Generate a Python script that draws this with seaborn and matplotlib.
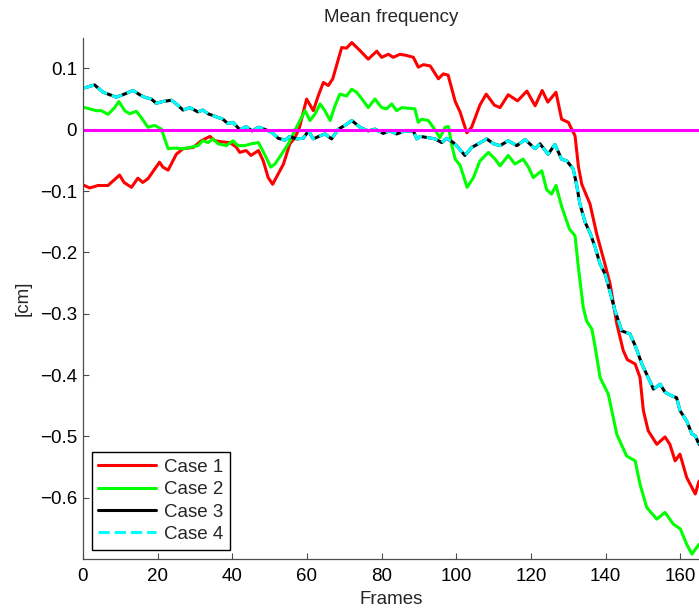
import matplotlib
matplotlib.use("Agg")
import matplotlib.pyplot as plt
import seaborn as sns
import pandas as pd

# ---------------- data ----------------
case1_x = [0, 1.8, 4, 6.7, 9.8, 11, 13, 14.7, 16, 17.4, 20.5, 21.4, 22.8, 25, 26.8, 29.5,
           31.7, 34, 35.3, 37.5, 39.3, 41, 42, 43.7, 45, 47, 48.3, 49.6, 50.8, 52.3, 53.7,
           55.4, 56.8, 58, 59.9, 61.7, 63, 64.4, 65.7, 66.9, 69.3, 70.6, 72, 74.2, 76.4,
           78.7, 80, 81.8, 83.1, 84.9, 86.7, 88.5, 89.8, 91.2, 93, 95.2, 96.5, 97.8, 99.7,
           101, 102.8, 104.1, 106.3, 108, 110.2, 111.7, 113.9, 116.4, 118.9, 121.1, 123,
           124.5, 126.7, 128.2, 130, 131.8, 132.7, 133.6, 135.8, 137.6, 139.8, 141.2, 143,
           144.7, 145.8, 147.9, 149.2, 150.1, 151.4, 153.7, 155.9, 157.2, 158.6, 159.9,
           161.7, 164, 165]
case1_y = [-0.090, -0.095, -0.091, -0.091, -0.074, -0.086, -0.094, -0.079, -0.086, -0.080,
           -0.053, -0.061, -0.066, -0.040, -0.031, -0.029, -0.018, -0.011, -0.018, -0.020,
           -0.021, -0.028, -0.037, -0.034, -0.042, -0.034, -0.051, -0.078, -0.089, -0.072,
           -0.056, -0.023, -0.013, 0.004, 0.050, 0.031, 0.055, 0.077, 0.072, 0.083, 0.134,
           0.133, 0.142, 0.129, 0.115, 0.128, 0.118, 0.123, 0.118, 0.123, 0.121, 0.118,
           0.102, 0.106, 0.104, 0.083, 0.091, 0.089, 0.046, 0.029, -0.005, 0.004, 0.040,
           0.058, 0.040, 0.036, 0.057, 0.047, 0.063, 0.039, 0.064, 0.045, 0.061, 0.017,
           0.012, -0.010, -0.060, -0.089, -0.121, -0.170, -0.219, -0.252, -0.317, -0.360,
           -0.375, -0.382, -0.404, -0.458, -0.491, -0.513, -0.501, -0.513, -0.540, -0.529,
           -0.567, -0.594, -0.573]

case2_x = [0.5, 3.6, 4.9, 6.7, 8.5, 9.6, 11.2, 12.5, 14.3, 15.6, 17.4, 19.2, 21, 22.8, 24.6,
           26.8, 28.6, 30.8, 32.1, 33.5, 34.8, 36.2, 38.4, 40.2, 41.5, 43.3, 45.1, 47, 48.8,
           50.3, 51.4, 53.2, 55, 57.2, 59.5, 60.8, 62.2, 63.5, 64.8, 66.2, 67.5, 68.8, 70.6,
           72, 73.3, 75.1, 76.4, 78.2, 80, 81.3, 82.7, 84, 85.4, 87.1, 88.9, 89.8, 90.7,
           92.5, 93.8, 95.6, 97, 97.9, 98.8, 99.7, 101, 102.9, 104.6, 106.3, 108.6, 110.4,
           111.7, 113.9, 115.7, 117.9, 119.3, 120.6, 122.9, 124.2, 125.5, 126.7, 128.2,
           130.3, 131.8, 132.7, 134, 134.9, 136.3, 137.2, 138.5, 140.7, 143, 145.6, 147.9,
           149.2, 151, 153.7, 155.9, 158.1, 160, 161.7, 163.1, 165]
case2_y = [0.036, 0.031, 0.031, 0.025, 0.036, 0.046, 0.031, 0.026, 0.030, 0.020, 0.004,
           0.007, 0.001, -0.031, -0.030, -0.031, -0.029, -0.026, -0.018, -0.021, -0.015,
           -0.023, -0.026, -0.018, -0.026, -0.026, -0.023, -0.021, -0.042, -0.061, -0.056,
           -0.040, -0.023, 0.004, 0.031, 0.015, 0.026, 0.042, 0.031, 0.015, 0.039, 0.058,
           0.055, 0.066, 0.061, 0.047, 0.036, 0.050, 0.036, 0.034, 0.042, 0.031, 0.036,
           0.035, 0.034, 0.012, 0.017, 0.015, 0.004, -0.013, 0.004, 0.005, -0.026, -0.048,
           -0.058, -0.094, -0.078, -0.051, -0.037, -0.048, -0.059, -0.042, -0.056, -0.048,
           -0.061, -0.078, -0.067, -0.098, -0.105, -0.091, -0.125, -0.162, -0.173, -0.225,
           -0.290, -0.312, -0.325, -0.355, -0.404, -0.431, -0.497, -0.532, -0.540, -0.578,
           -0.616, -0.635, -0.624, -0.643, -0.651, -0.676, -0.692, -0.676]

case3_x = [0, 0.9, 3.1, 5.4, 7.2, 8.9, 10.7, 13.4, 15.2, 16.5, 18.3, 19.6, 21.4, 23.7, 25,
           26.8, 28.6, 30.8, 32.1, 33.5, 35.7, 37.5, 38.8, 40.2, 42, 43.7, 45.3, 47, 48.5,
           50.5, 52.3, 54.1, 55.4, 57.2, 59, 60.4, 61.7, 63.5, 64.8, 66.6, 68.4, 70.2, 72,
           74.2, 76.4, 78.2, 80.4, 82.2, 84, 85.8, 88.5, 89.4, 90.3, 92.5, 94.3, 96.1, 97.4,
           99.2, 100.5, 102.3, 104.1, 105.9, 108.1, 110, 111.7, 113.9, 116.2, 118.4, 121.1,
           122.4, 124.6, 126.4, 128.2, 129.6, 131.3, 132.2, 133.1, 134.5, 135.8, 137.2,
           138.5, 139.9, 141.2, 142.5, 144.3, 146.5, 147.9, 149.7, 151, 152.8, 154.6, 155.9,
           157.7, 159, 159.9, 161.7, 163.1, 164, 165]
case3_y = [0.068, 0.069, 0.073, 0.061, 0.057, 0.053, 0.057, 0.064, 0.057, 0.053, 0.050,
           0.043, 0.046, 0.048, 0.042, 0.032, 0.036, 0.029, 0.032, 0.026, 0.021, 0.017,
           0.010, 0.012, 0.000, 0.005, -0.002, 0.004, 0.001, -0.004, -0.014, -0.017, -0.011,
           -0.015, -0.014, -0.002, -0.015, -0.010, -0.007, -0.015, 0.001, 0.007, 0.015,
           0.004, -0.002, 0.001, -0.006, -0.002, -0.007, -0.003, -0.002, -0.015, -0.011,
           -0.013, -0.015, -0.021, -0.014, -0.021, -0.029, -0.042, -0.029, -0.023, -0.015,
           -0.023, -0.026, -0.018, -0.026, -0.016, -0.031, -0.023, -0.040, -0.024, -0.048,
           -0.051, -0.064, -0.089, -0.121, -0.151, -0.168, -0.192, -0.219, -0.236, -0.265,
           -0.295, -0.328, -0.333, -0.352, -0.382, -0.399, -0.423, -0.415, -0.428, -0.434,
           -0.437, -0.458, -0.475, -0.496, -0.499, -0.513]

case4_x = list(case3_x)
case4_y = list(case3_y)

zero_x = [0, 165]
zero_y = [0, 0]

labels = ["Case 1", "Case 2", "Case 3", "Case 4"]
title = "Mean frequency"
xlabel = "Frames"
ylabel = "[cm]"
xticks = [0, 20, 40, 60, 80, 100, 120, 140, 160]
yticks = [-0.6, -0.5, -0.4, -0.3, -0.2, -0.1, 0, 0.1]
ytick_labels = ["\u22120.6", "\u22120.5", "\u22120.4", "\u22120.3", "\u22120.2", "\u22120.1", "0", "0.1"]

# ---------------- plotting ----------------
sns.set_theme(style="ticks")
plt.rcParams["font.family"] = ["Liberation Sans", "DejaVu Sans"]
plt.rcParams["xtick.direction"] = "in"
plt.rcParams["ytick.direction"] = "in"

fig = plt.figure(figsize=(6.99, 6.11), dpi=100)
ax = fig.add_axes([0.1187, 0.0851, 0.8813, 0.8532])

lw = 2.2
d1 = pd.DataFrame({"x": case1_x, "y": case1_y})
d2 = pd.DataFrame({"x": case2_x, "y": case2_y})
d3 = pd.DataFrame({"x": case3_x, "y": case3_y})
d4 = pd.DataFrame({"x": case4_x, "y": case4_y})
d0 = pd.DataFrame({"x": zero_x, "y": zero_y})

sns.lineplot(data=d1, x="x", y="y", ax=ax, color="#ff0000", lw=lw, label=labels[0], sort=False)
sns.lineplot(data=d2, x="x", y="y", ax=ax, color="#00ff00", lw=lw, label=labels[1], sort=False)
sns.lineplot(data=d3, x="x", y="y", ax=ax, color="#000000", lw=lw, label=labels[2], sort=False)
sns.lineplot(data=d4, x="x", y="y", ax=ax, color="#00ffff", lw=lw, label=labels[3], sort=False,
             linestyle="--")
sns.lineplot(data=d0, x="x", y="y", ax=ax, color="#ff00ff", lw=lw, sort=False)

ax.set_xlim(0, 165)
ax.set_ylim(-0.7, 0.15)
ax.set_xticks(xticks)
ax.set_yticks(yticks)
ax.set_yticklabels(ytick_labels)
fs = 13.5
ax.tick_params(axis="both", labelsize=fs, length=4.5, width=0.8, colors="0.3",
               labelcolor="black")
ax.tick_params(axis="x", pad=6.5)
ax.tick_params(axis="y", pad=4.3)
for s in ["top", "right"]:
    ax.spines[s].set_visible(False)
for s in ["left", "bottom"]:
    ax.spines[s].set_color("0.3")
    ax.spines[s].set_linewidth(0.9)

ax.set_title(title, fontsize=fs, pad=11)
ax.set_xlabel(xlabel, fontsize=fs, labelpad=4)
ax.set_ylabel(ylabel, fontsize=fs, labelpad=6)

handles, labs = ax.get_legend_handles_labels()
leg = ax.legend(handles[:4], labs[:4], loc="lower left", bbox_to_anchor=(0.014, 0.018),
                borderaxespad=0, fontsize=fs, frameon=True, fancybox=False,
                handlelength=3.1, handletextpad=0.4, labelspacing=0.28,
                borderpad=0.35, edgecolor="black", framealpha=1)
leg.get_frame().set_linewidth(1.0)

fig.savefig("out.png", dpi=100)
